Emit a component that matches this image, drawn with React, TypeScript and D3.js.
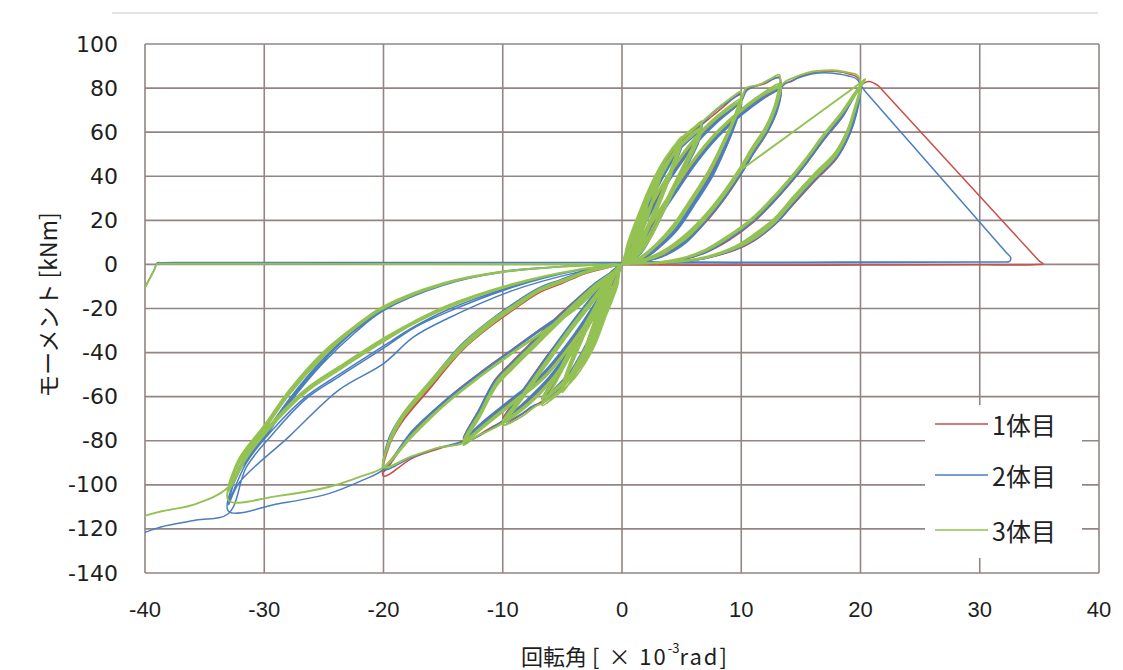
import React from "react";
import * as d3 from "d3";

type P = [number, number];

const X_TICKS = [-40, -30, -20, -10, 0, 10, 20, 30, 40];
const Y_TICKS = [100, 80, 60, 40, 20, 0, -20, -40, -60, -80, -100, -120, -140];
const SERIES_NAMES = ["1体目", "2体目", "3体目"];
const SERIES_COLORS = ["#c94d49", "#4a7ec0", "#93c152"];

// ---------- 1体目 ----------
const red_small: P[] = [
  [0, 0], [0.8, 12], [2.2, 30], [1.5, 17], [0.6, 4], [0.02, 0.2], [-0.8, -12], [-2.2, -31], [-1.3, -16], [-0.5, -4], [0, 0],
  [0.8, 12], [2.2, 29], [1.5, 16], [0.6, 4], [0.02, 0.2], [-0.8, -12], [-2.2, -30], [-1.3, -15], [-0.5, -4], [0, 0],
  [0.9, 13], [2, 27], [3.3, 42], [2.6, 30], [1.6, 15], [0.5, 3], [0.02, 0.2], [-0.9, -13], [-2, -28], [-3.3, -43], [-2.5, -30], [-1.4, -14], [-0.4, -3], [0, 0],
  [0.9, 13], [2, 26], [3.3, 41], [2.6, 29], [1.6, 14], [0.5, 3], [0.02, 0.2], [-0.9, -13], [-2, -27], [-3.3, -42], [-2.5, -29], [-1.4, -13], [-0.4, -3], [0, 0],
  [1, 13], [2.3, 28], [3.6, 43], [5, 56], [4.3, 45], [3.3, 31], [2.1, 17], [0.9, 5], [0.02, 0.2], [-0.8, -12], [-2, -27], [-3.5, -43], [-5, -56], [-4.2, -45], [-3, -30], [-1.8, -16], [-0.7, -4], [0, 0],
  [1, 12], [2.3, 27], [3.6, 42], [5, 54], [4.3, 44], [3.3, 30], [2.1, 16], [0.9, 4], [0.02, 0.2], [-0.8, -11], [-2, -26], [-3.5, -42], [-5, -55], [-4.2, -44], [-3, -29], [-1.8, -15], [-0.7, -4], [0, 0],
  [0.6, 10], [1.5, 22], [2.5, 35], [3.7, 47], [5, 56], [6, 61], [6.7, 64], [6.3, 57], [5.5, 48], [4.5, 37], [3.5, 26], [2.5, 15], [1.5, 6], [0.5, 1], [0.02, 0.1],
  [-0.5, -10], [-1.5, -24], [-2.5, -38], [-4, -50], [-5.5, -58], [-6.7, -63], [-5.8, -55], [-4.5, -42], [-3, -28], [-1.5, -13], [-0.5, -3], [0, 0],
  [0.6, 9], [1.5, 21], [2.5, 33], [3.7, 45], [5, 54], [6, 59], [6.7, 61], [6.3, 55], [5.5, 46], [4.5, 35], [3.5, 24], [2.5, 14], [1.5, 5], [0.5, 1], [0.02, 0.1],
  [-0.5, -9], [-1.5, -23], [-2.5, -36], [-4, -48], [-5.5, -56], [-6.7, -61], [-5.8, -53], [-4.5, -40], [-3, -27], [-1.5, -12], [-0.5, -3], [0, 0],
];
const red_mid: P[] = [
  [0.6, 9], [1.5, 21], [2.5, 33], [3.7, 45], [5, 55], [6.6, 63], [7.5, 67], [8.4, 71], [9.5, 76], [10, 77],
  [9.5, 66], [8.7, 55], [7.5, 42], [6, 29], [4.5, 17], [3, 8], [1.5, 3], [0.05, 0],
  [-0.5, -9], [-1.5, -23], [-2.5, -36], [-4, -48], [-5.5, -57], [-6.7, -62], [-7.3, -64], [-8.4, -68], [-10, -73],
  [-9, -64], [-7.8, -55], [-6.5, -45], [-4.5, -30], [-2.5, -16], [-1, -5], [0, 0],
  [1, 10], [2.5, 26], [4, 40], [6, 55], [8, 66], [10, 74],
  [9.5, 65], [8.7, 54], [7.5, 41], [6, 28], [4.5, 16], [3, 8], [1.5, 3], [0.05, 0],
  [-0.8, -9], [-2.3, -22], [-4, -37], [-6, -52], [-8, -63], [-10, -71],
  [-9, -63], [-7.8, -54], [-6.5, -44], [-4.5, -29], [-2.5, -15], [-1, -5], [0, 0],
  [1, 10], [2.5, 25], [4, 39], [6, 54], [8, 65], [10, 73],
  [9.5, 64], [8.7, 53], [7.5, 40], [6, 27], [4.5, 16], [3, 7], [1.5, 2], [0.05, 0],
  [-0.8, -9], [-2.3, -22], [-4, -36], [-6, -51], [-8, -62], [-10, -70],
  [-9, -62], [-7.8, -53], [-6.5, -43], [-4.5, -29], [-2.5, -15], [-1, -5], [0, 0],
  [1, 10], [2.5, 25], [4, 39], [6, 54], [8, 65], [10, 74], [10.4, 79], [12, 82], [13.2, 85],
  [13, 72], [12.2, 62], [11, 52], [10, 43], [8.5, 31], [7, 21], [5.3, 12], [3.5, 5], [1.5, 1], [0.05, 0],
  [-0.8, -9], [-2.3, -22], [-4, -36], [-6, -51], [-8, -62], [-10, -71], [-11, -74], [-12.2, -78], [-13.3, -81],
  [-12, -68], [-10.6, -54], [-9.2, -46], [-7.9, -39], [-5.1, -24], [-2.3, -10], [0, 0],
  [1.5, 10], [3, 22], [4.5, 34], [6, 46], [8, 59], [10, 69], [12, 77], [13.3, 81],
  [13, 71], [12.2, 61], [11, 51], [10, 42], [8.5, 30], [7, 20], [5.3, 11], [3.5, 4], [1.5, 1], [0.05, 0],
  [-1.5, -13], [-3.7, -31], [-6.5, -50], [-9.2, -62], [-11.5, -72], [-13.3, -80],
  [-12, -67], [-10.6, -53], [-9.2, -45], [-7.9, -38], [-5.1, -23], [-2.3, -9], [0, 0],
  [1.5, 9], [3, 21], [4.5, 33], [6, 45], [8, 58], [10, 68], [12, 76], [13.3, 80],
  [13, 70], [12.2, 60], [11, 50], [10, 41], [8.5, 29], [7, 19], [5.3, 10], [3.5, 4], [1.5, 1], [0.05, 0],
  [-1.5, -12], [-3.7, -30], [-6.5, -49], [-9.2, -61], [-11.5, -71], [-13.3, -79],
  [-12, -66], [-10.6, -52], [-9.2, -44], [-7.9, -37], [-5.1, -22], [-2.3, -9], [0, 0],
];
const red_big: P[] = [
  [1.5, 9], [3, 21], [4.5, 33], [6, 45], [8, 58], [10, 68], [12, 76], [13.3, 80], [13.6, 82], [14.2, 83], [15, 85.5], [16, 87], [17, 87.5], [18, 87.5], [19, 86.5], [19.7, 85], [20, 82],
  [19.6, 70], [19, 60], [18, 50], [16.2, 40], [14.5, 30], [12.9, 20], [11, 12], [9.5, 7.7], [7, 3], [5, 1.5], [3, 0.5], [0.05, 0],
  [-1.5, -12], [-3.7, -30], [-6.5, -49], [-9.2, -61], [-11.5, -71], [-13.3, -80], [-15.3, -83.5], [-17.6, -88], [-20, -96],
  [-19.5, -82], [-18.5, -72], [-16.2, -57], [-13.4, -39], [-11, -28], [-9.2, -21], [-7, -13], [-5.1, -8.8], [-3, -4], [-1, -1.2], [0, 0],
  [2.5, 0.5], [5, 2.5], [7, 6], [9, 12], [11, 20], [12.5, 28], [14, 37], [15.5, 47], [17, 58], [18.5, 68], [20, 81],
  [19.6, 69], [19, 59], [18, 49], [16.2, 39], [14.5, 29], [12.9, 19], [11, 11], [9.5, 7], [7, 3], [5, 1.2], [3, 0.4], [0.05, 0],
  [-1, -4], [-3.7, -18], [-6.5, -28.5], [-9.2, -39], [-12, -50], [-14.8, -62], [-17.5, -76], [-20, -94],
  [-19.5, -81], [-18.5, -71], [-16.2, -56], [-13.4, -38], [-11, -27], [-9.2, -20], [-7, -12], [-5.1, -8], [-3, -3.5], [-1, -1], [0, 0],
  [2.5, 0.4], [5, 2.2], [7, 5.5], [9, 11.5], [11, 19.5], [12.5, 27.5], [14, 36.5], [15.5, 46.5], [17, 57.5], [18.5, 67.5], [20, 80.5],
  [19.6, 68], [19, 58], [18, 48], [16.2, 38], [14.5, 28], [12.9, 18.5], [11, 10.5], [9.5, 6.5], [7, 2.8], [5, 1.1], [3, 0.3], [0.05, 0],
  [-1, -3.8], [-3.7, -17.5], [-6.5, -28], [-9.2, -38.5], [-12, -49.5], [-14.8, -61.5], [-17.5, -75.5], [-20, -93.5],
  [-19.5, -80], [-18.5, -70], [-16.2, -55], [-13.4, -37], [-11, -26], [-9.2, -19], [-7, -11.5], [-5.1, -7.5], [-3, -3.2], [-1, -0.9], [0, 0],
  [2.5, 0.3], [5, 2], [7, 5.3], [9, 11], [11, 19], [12.5, 27], [14, 36], [15.5, 46], [17, 57], [18.5, 67], [20, 81], [20.7, 83], [21.5, 81], [21.9, 78.7],
  [34.6, 3.8], [35, 1.5], [35.3, 0.3], [34.5, -0.1], [30, -0.2], [20, -0.3], [10, -0.4], [0.1, -0.2],
];

// ---------- 2体目 ----------
const blue_small: P[] = [
  [0.7, 11], [2.2, 29], [1.6, 18], [0.7, 5], [0.05, 0.3], [-0.7, -11], [-2.2, -30], [-1.4, -17], [-0.6, -5], [0, 0],
  [0.7, 11], [2.2, 28], [1.6, 17], [0.7, 4], [0.05, 0.3], [-0.7, -11], [-2.2, -29], [-1.4, -16], [-0.6, -4], [0, 0],
  [0.8, 12], [2, 26], [3.3, 41], [2.7, 31], [1.7, 16], [0.6, 4], [0.05, 0.2], [-0.8, -12], [-2, -27], [-3.3, -42], [-2.6, -31], [-1.5, -15], [-0.5, -4], [0, 0],
  [0.8, 12], [2, 25], [3.3, 40], [2.7, 30], [1.7, 15], [0.6, 3], [0.05, 0.2], [-0.8, -12], [-2, -26], [-3.3, -41], [-2.6, -30], [-1.5, -14], [-0.5, -3], [0, 0],
  [0.9, 12], [2.2, 27], [3.6, 42], [5, 55], [4.4, 46], [3.4, 32], [2.2, 18], [1, 5], [0.05, 0.2], [-0.8, -11], [-2, -26], [-3.5, -42], [-5, -55], [-4.3, -46], [-3.1, -31], [-1.9, -17], [-0.8, -5], [0, 0],
  [0.9, 11], [2.2, 26], [3.6, 41], [5, 53], [4.4, 45], [3.4, 31], [2.2, 17], [1, 4], [0.05, 0.2], [-0.8, -11], [-2, -25], [-3.5, -41], [-5, -54], [-4.3, -45], [-3.1, -30], [-1.9, -16], [-0.8, -4], [0, 0],
  [0.6, 9], [1.6, 22], [2.6, 35], [3.8, 47], [5, 55], [6, 60], [6.7, 63], [6.4, 57], [5.6, 48], [4.6, 37], [3.6, 26], [2.6, 15], [1.6, 6], [0.6, 1], [0.05, 0.1],
  [-0.5, -9], [-1.5, -23], [-2.6, -37], [-4.1, -49], [-5.6, -58], [-6.7, -63], [-5.9, -55], [-4.6, -42], [-3.1, -28], [-1.6, -13], [-0.6, -3], [0, 0],
  [0.6, 9], [1.6, 21], [2.6, 34], [3.8, 45], [5, 53], [6, 58], [6.7, 61], [6.4, 55], [5.6, 46], [4.6, 35], [3.6, 25], [2.6, 14], [1.6, 5], [0.6, 1], [0.05, 0.1],
  [-0.5, -9], [-1.5, -22], [-2.6, -35], [-4.1, -47], [-5.6, -56], [-6.7, -61], [-5.9, -53], [-4.6, -40], [-3.1, -27], [-1.6, -12], [-0.6, -3], [0, 0],
];
const blue_mid: P[] = [
  [0.6, 9], [1.6, 21], [2.6, 34], [3.8, 45], [5, 54], [6.6, 63], [7.5, 68], [8.4, 72], [9.5, 76], [10, 78],
  [9.6, 67], [8.8, 56], [7.7, 43], [6.2, 30], [4.7, 18], [3.2, 9], [1.7, 3], [0.1, 0],
  [-0.6, -9], [-1.6, -23], [-2.6, -36], [-4.1, -48], [-5.6, -57], [-6.8, -63], [-7.4, -64], [-8.5, -68], [-10, -72],
  [-9.1, -65], [-7.9, -56], [-6.6, -46], [-4.6, -31], [-2.6, -17], [-1.1, -6], [0, 0],
  [1.1, 10], [2.6, 26], [4.1, 40], [6.1, 55], [8.1, 66], [10, 74],
  [9.6, 66], [8.8, 55], [7.7, 42], [6.2, 29], [4.7, 17], [3.2, 8], [1.7, 3], [0.1, 0],
  [-0.9, -9], [-2.4, -22], [-4.1, -37], [-6.1, -52], [-8.1, -63], [-10, -72],
  [-9.1, -64], [-7.9, -55], [-6.6, -45], [-4.6, -30], [-2.6, -16], [-1.1, -5], [0, 0],
  [1.1, 10], [2.6, 25], [4.1, 39], [6.1, 54], [8.1, 65], [10, 73],
  [9.6, 65], [8.8, 54], [7.7, 41], [6.2, 28], [4.7, 16], [3.2, 8], [1.7, 2], [0.1, 0],
  [-0.9, -9], [-2.4, -21], [-4.1, -36], [-6.1, -51], [-8.1, -62], [-10, -71],
  [-9.1, -63], [-7.9, -54], [-6.6, -44], [-4.6, -29], [-2.6, -15], [-1.1, -5], [0, 0],
  [1.1, 10], [2.6, 25], [4.1, 39], [6.1, 54], [8.1, 65], [10, 74], [10.5, 79], [12, 82.5], [13.2, 84.5],
  [13, 73], [12.3, 63], [11.1, 53], [10.1, 44], [8.6, 32], [7.1, 22], [5.4, 12], [3.6, 5], [1.6, 1], [0.1, 0],
  [-0.9, -9], [-2.4, -21], [-4.1, -36], [-6.1, -51], [-8.1, -62], [-10, -71], [-11, -74.5], [-12.2, -78.5], [-13.3, -81],
  [-12.1, -69], [-10.7, -55], [-9.3, -47], [-8, -40], [-5.2, -25], [-2.4, -11], [0, 0],
  [1.6, 10], [3.1, 22], [4.6, 34], [6.1, 46], [8.1, 59], [10.1, 69], [12.1, 77], [13.3, 81],
  [13.1, 72], [12.3, 62], [11.1, 52], [10.1, 43], [8.6, 31], [7.1, 21], [5.4, 11], [3.6, 4], [1.6, 1], [0.1, 0],
  [-1.6, -13], [-3.8, -31], [-6.6, -50], [-9.3, -62], [-11.6, -72], [-13.3, -80],
  [-12.1, -68], [-10.7, -54], [-9.3, -46], [-8, -39], [-5.2, -24], [-2.4, -10], [0, 0],
  [1.6, 9], [3.1, 21], [4.6, 33], [6.1, 45], [8.1, 58], [10.1, 68], [12.1, 76], [13.3, 80],
  [13.1, 71], [12.3, 61], [11.1, 51], [10.1, 42], [8.6, 30], [7.1, 20], [5.4, 10], [3.6, 4], [1.6, 1], [0.1, 0],
  [-1.6, -12], [-3.8, -30], [-6.6, -49], [-9.3, -61], [-11.6, -71], [-13.3, -79],
  [-12.1, -67], [-10.7, -53], [-9.3, -45], [-8, -38], [-5.2, -23], [-2.4, -9], [0, 0],
];
const blue_big: P[] = [
  [1.6, 9], [3.1, 21], [4.6, 33], [6.1, 45], [8.1, 58], [10.1, 68], [12.1, 76], [13.3, 80], [13.7, 82], [14.3, 83.5], [15, 85], [16, 86.5], [17, 87], [18, 86.5], [19, 85.5], [19.7, 84], [20, 81],
  [19.7, 71], [19.1, 61], [18.1, 51], [16.3, 41], [14.6, 31], [13, 21], [11.1, 13], [9.6, 8], [7.1, 3.2], [5.1, 1.6], [3.1, 0.6], [0.1, 0],
  [-1.6, -12], [-3.8, -30], [-6.6, -49], [-9.3, -61], [-11.6, -71], [-13.3, -80], [-15.3, -83], [-17.6, -87.5], [-20, -93],
  [-19.6, -81], [-18.6, -71], [-16.3, -56], [-13.5, -38], [-11.1, -27], [-9.3, -20], [-7.1, -12], [-5.2, -8], [-3.1, -3.5], [-1.1, -1], [0, 0],
  [2.6, 0.6], [5.1, 2.6], [7.1, 6.2], [9.1, 12.5], [11.1, 20.5], [12.6, 28.5], [14.1, 37.5], [15.6, 47.5], [17.1, 58.5], [18.6, 68.5], [20, 80.5],
  [19.7, 70], [19.1, 60], [18.1, 50], [16.3, 40], [14.6, 30], [13, 20], [11.1, 12], [9.6, 7.5], [7.1, 3], [5.1, 1.4], [3.1, 0.5], [0.1, 0],
  [-1.1, -4.5], [-3.8, -18.5], [-6.6, -29], [-9.3, -39.5], [-12.1, -50.5], [-14.9, -62.5], [-17.6, -76], [-20, -93],
  [-19.6, -80], [-18.6, -70], [-16.3, -55], [-13.5, -37], [-11.1, -26], [-9.3, -19], [-7.1, -11.5], [-5.2, -7.5], [-3.1, -3.2], [-1.1, -0.9], [0, 0],
  [2.6, 0.5], [5.1, 2.3], [7.1, 5.8], [9.1, 12], [11.1, 20], [12.6, 28], [14.1, 37], [15.6, 47], [17.1, 58], [18.6, 68], [20, 80],
  [19.7, 69], [19.1, 59], [18.1, 49], [16.3, 39], [14.6, 29], [13, 19], [11.1, 11], [9.6, 7], [7.1, 2.8], [5.1, 1.3], [3.1, 0.5], [0.1, 0],
  [-1.1, -4.3], [-3.8, -18], [-6.6, -28.5], [-9.3, -39], [-12.1, -50], [-14.9, -62], [-17.6, -75.5], [-20, -92.5],
  [-19.6, -79.5], [-18.6, -69.5], [-16.3, -54.5], [-13.5, -36.5], [-11.1, -25.5], [-9.3, -18.5], [-7.1, -11], [-5.2, -7], [-3.1, -3], [-1.1, -0.8], [0, 0],
  [2.6, 0.5], [5.1, 2.2], [7.1, 5.6], [9.1, 11.8], [11.1, 19.8], [12.6, 27.8], [14.1, 36.8], [15.6, 46.8], [17.1, 57.8], [18.6, 67.8], [20, 81], [20.4, 78.5],
  [32.2, 5.5], [32.6, 3], [32.5, 1.4], [32, 1.1], [25, 1.1], [15, 1], [5, 0.8], [0.1, 0.5],
];
const blue_33: P[] = [
  [-1.1, -4.3], [-3.8, -18], [-6.6, -28.5], [-9.3, -39], [-12.1, -50], [-14.9, -62], [-17.6, -75.5], [-20, -93],
  [-21.8, -98], [-24.6, -104], [-28.8, -108.6], [-33, -112],
  [-32.1, -94], [-30, -79], [-27.9, -63], [-25.1, -45], [-22.4, -31], [-20, -21], [-15, -9.5], [-10, -3.5], [-5, -1], [0, 0.5],
  [10, 0.8], [20, 1], [32, 1.1], [20, 0.9], [10, 0.7], [0.2, 0.4],
  [-3.7, -3.5], [-9.25, -12], [-14.8, -25], [-17.5, -33], [-20, -45], [-23.75, -57], [-27.9, -78], [-32.1, -99], [-33, -109],
  [-32.1, -93], [-30, -78], [-27.9, -62], [-25.1, -44], [-22.4, -30], [-20, -20.5], [-15, -9], [-10, -3.3], [-5, -1], [0, 0.5],
  [15, 0.9], [32, 1.1], [15, 0.9], [0.2, 0.4],
  [-3.7, -2.7], [-9.25, -10], [-14.8, -21], [-17.5, -28.5], [-20, -37], [-23.75, -50], [-26.5, -60], [-29.3, -75], [-31.5, -90], [-33, -108],
  [-32.1, -92], [-30, -77], [-27.9, -61], [-25.1, -43], [-22.4, -29.5], [-20, -20], [-15, -9], [-10, -3.2], [-5, -1], [0, 0.5],
  [15, 0.9], [32, 1.1], [15, 0.9], [0.2, 0.4],
  [-3.7, -2.7], [-9.25, -10.5], [-14.8, -22], [-17.5, -29], [-20, -38], [-23.75, -51], [-26.5, -61], [-29.3, -77], [-31.5, -92], [-33, -113],
  [-35.7, -116], [-38.6, -119], [-40, -121.5], [-41.5, -123], [-41, -25], [-39.2, -2], [-39, 0.6], [-38.6, 0.8], [-37, 0.9], [-20, 0.9], [0, 0.9], [20, 1], [32.4, 1.1],
];

// ---------- 3体目 ----------
const green_small: P[] = [
  [0, 0], [0.7, 12], [2.2, 31], [1.5, 18], [0.6, 5], [0.02, 0.2], [-0.7, -12], [-2.2, -31], [-1.4, -17], [-0.6, -5], [0, 0],
  [0.8, 13], [2.2, 30], [1.6, 18], [0.6, 4], [0.02, 0.2], [-0.8, -13], [-2.2, -30], [-1.4, -16], [-0.6, -4], [0, 0],
  [0.8, 12], [2.2, 29], [1.6, 17], [0.6, 4], [0.02, 0.2], [-0.8, -12], [-2.2, -29], [-1.4, -15], [-0.6, -4], [0, 0],
  [0.8, 13], [1.9, 27], [3.3, 43], [2.7, 32], [1.8, 18], [0.7, 5], [0.02, 0.2], [-0.8, -13], [-1.9, -28], [-3.3, -44], [-2.6, -32], [-1.6, -17], [-0.6, -4], [0, 0],
  [0.9, 13], [2, 27], [3.3, 42], [2.7, 31], [1.8, 17], [0.7, 4], [0.02, 0.2], [-0.9, -13], [-2, -28], [-3.3, -43], [-2.6, -31], [-1.6, -16], [-0.6, -4], [0, 0],
  [0.9, 12], [2, 26], [3.3, 41], [2.7, 30], [1.8, 16], [0.7, 4], [0.02, 0.2], [-0.9, -12], [-2, -27], [-3.3, -42], [-2.6, -30], [-1.6, -15], [-0.6, -3], [0, 0],
  [0.8, 13], [2, 29], [3.4, 45], [5, 58], [4.4, 48], [3.5, 35], [2.4, 21], [1.2, 7], [0.02, 0.2], [-0.7, -12], [-1.9, -28], [-3.4, -45], [-5, -58], [-4.4, -48], [-3.3, -34], [-2.1, -19], [-0.9, -6], [0, 0],
  [0.9, 12], [2.1, 28], [3.5, 43], [5, 56], [4.4, 46], [3.5, 33], [2.4, 19], [1.2, 6], [0.02, 0.2], [-0.8, -12], [-2, -27], [-3.5, -43], [-5, -56], [-4.4, -46], [-3.3, -32], [-2.1, -18], [-0.9, -5], [0, 0],
  [0.9, 12], [2.1, 27], [3.5, 42], [5, 55], [4.4, 45], [3.5, 32], [2.4, 18], [1.2, 5], [0.02, 0.2], [-0.8, -11], [-2, -26], [-3.5, -42], [-5, -55], [-4.4, -45], [-3.3, -31], [-2.1, -17], [-0.9, -5], [0, 0],
  [0.5, 10], [1.4, 23], [2.4, 36], [3.6, 48], [4.9, 57], [6, 62], [6.7, 65], [6.3, 58], [5.5, 49], [4.5, 38], [3.5, 27], [2.5, 16], [1.5, 7], [0.5, 1.5], [0.02, 0.1],
  [-0.5, -10], [-1.4, -24], [-2.4, -38], [-3.9, -51], [-5.4, -59], [-6.7, -64], [-5.8, -56], [-4.5, -43], [-3, -29], [-1.5, -14], [-0.5, -4], [0, 0],
  [0.6, 10], [1.5, 22], [2.5, 35], [3.7, 46], [5, 55], [6, 60], [6.7, 62], [6.3, 56], [5.5, 47], [4.5, 36], [3.5, 25], [2.5, 14], [1.5, 6], [0.5, 1], [0.02, 0.1],
  [-0.5, -10], [-1.5, -23], [-2.5, -37], [-4, -49], [-5.5, -57], [-6.7, -62], [-5.8, -54], [-4.5, -41], [-3, -27], [-1.5, -13], [-0.5, -3], [0, 0],
  [0.6, 9], [1.5, 21], [2.5, 34], [3.7, 45], [5, 54], [6, 59], [6.7, 61], [6.3, 55], [5.5, 46], [4.5, 35], [3.5, 24], [2.5, 13], [1.5, 5], [0.5, 1], [0.02, 0.1],
  [-0.5, -9], [-1.5, -22], [-2.5, -36], [-4, -48], [-5.5, -56], [-6.7, -61], [-5.8, -53], [-4.5, -40], [-3, -26], [-1.5, -12], [-0.5, -3], [0, 0],
];
const green_mid: P[] = [
  [0.5, 10], [1.4, 22], [2.4, 35], [3.6, 47], [4.9, 56], [6.6, 64], [7.5, 68.5], [8.4, 72.5], [9.5, 77], [10, 78.5],
  [9.4, 67], [8.5, 56], [7.3, 43], [5.8, 30], [4.3, 18], [2.8, 9], [1.4, 3], [0.02, 0.1],
  [-0.4, -10], [-1.4, -24], [-2.4, -37], [-3.9, -49], [-5.4, -58], [-6.7, -63], [-7.3, -64.5], [-8.4, -69], [-10, -73],
  [-8.9, -65], [-7.7, -56], [-6.4, -46], [-4.4, -31], [-2.4, -17], [-0.9, -6], [0, 0],
  [0.9, 11], [2.4, 27], [3.9, 41], [5.9, 56], [7.9, 67], [10, 75],
  [9.4, 66], [8.5, 55], [7.3, 42], [5.8, 29], [4.3, 17], [2.8, 8], [1.4, 3], [0.02, 0.1],
  [-0.7, -10], [-2.2, -23], [-3.9, -38], [-5.9, -53], [-7.9, -64], [-10, -72],
  [-8.9, -64], [-7.7, -55], [-6.4, -45], [-4.4, -30], [-2.4, -16], [-0.9, -5], [0, 0],
  [0.9, 11], [2.4, 26], [3.9, 40], [5.9, 55], [7.9, 66], [10, 74],
  [9.4, 65], [8.5, 54], [7.3, 41], [5.8, 28], [4.3, 16], [2.8, 8], [1.4, 2], [0.02, 0.1],
  [-0.7, -10], [-2.2, -22], [-3.9, -37], [-5.9, -52], [-7.9, -63], [-10, -71],
  [-8.9, -63], [-7.7, -54], [-6.4, -44], [-4.4, -29], [-2.4, -15], [-0.9, -5], [0, 0],
  [0.9, 11], [2.4, 26], [3.9, 40], [5.9, 55], [7.9, 66], [10, 75], [10.4, 80], [11.5, 81.5], [12.4, 84], [13.2, 86],
  [12.9, 74], [12.1, 63], [10.9, 53], [9.9, 44], [8.4, 32], [6.9, 22], [5.2, 13], [3.4, 6], [1.4, 1.5], [0.02, 0.1],
  [-0.7, -10], [-2.2, -22], [-3.9, -37], [-5.9, -52], [-7.9, -63], [-10, -72], [-11, -75], [-12.2, -78], [-13.3, -82],
  [-11.9, -69], [-10.5, -55], [-9.1, -47], [-7.8, -40], [-5, -25], [-2.2, -11], [0, 0],
  [1.4, 11], [2.9, 23], [4.4, 35], [5.9, 47], [7.9, 60], [9.9, 70], [11.9, 78], [13.3, 82],
  [12.9, 72], [12.1, 62], [10.9, 52], [9.9, 43], [8.4, 31], [6.9, 21], [5.2, 12], [3.4, 5], [1.4, 1], [0.02, 0.1],
  [-1.4, -14], [-3.6, -32], [-6.4, -51], [-9.1, -63], [-11.4, -73], [-13.3, -81],
  [-11.9, -68], [-10.5, -54], [-9.1, -46], [-7.8, -39], [-5, -24], [-2.2, -10], [0, 0],
  [1.4, 10], [2.9, 22], [4.4, 34], [5.9, 46], [7.9, 59], [9.9, 69], [11.9, 77], [13.3, 81],
  [12.9, 71], [12.1, 61], [10.9, 51], [9.9, 42], [8.4, 30], [6.9, 20], [5.2, 11], [3.4, 5], [1.4, 1], [0.02, 0.1],
  [-1.4, -13], [-3.6, -31], [-6.4, -50], [-9.1, -62], [-11.4, -72], [-13.3, -80],
  [-11.9, -67], [-10.5, -53], [-9.1, -45], [-7.8, -38], [-5, -23], [-2.2, -9], [0, 0],
];
const green_big: P[] = [
  [1.4, 10], [2.9, 22], [4.4, 34], [5.9, 46], [7.9, 59], [9.9, 69], [11.9, 77], [13.3, 81], [13.7, 83], [14.3, 84.5], [15, 86], [16, 87.5], [17, 88], [18, 88], [19, 87], [19.7, 86], [20, 82],
  [19.5, 71], [18.9, 61], [17.9, 51], [16.1, 41], [14.4, 31], [12.8, 21], [10.9, 13], [9.4, 8], [6.9, 3.3], [4.9, 1.6], [2.9, 0.6], [0.02, 0.1],
  [-1.4, -13], [-3.6, -31], [-6.4, -50], [-9.1, -62], [-11.4, -72], [-13.3, -81], [-15.3, -83], [-17.6, -87], [-20, -92],
  [-19.4, -80], [-18.4, -70], [-16.1, -55], [-13.3, -38], [-10.9, -27], [-9.1, -20], [-6.9, -12], [-5, -8], [-2.9, -3.5], [-0.9, -1], [0, 0],
  [2.4, 0.6], [4.9, 2.7], [6.9, 6.5], [8.9, 13], [10.9, 21], [12.4, 29], [13.9, 38], [15.4, 48], [16.9, 59], [18.4, 69], [20, 81],
  [19.5, 70], [18.9, 60], [17.9, 50], [16.1, 40], [14.4, 30], [12.8, 20], [10.9, 12], [9.4, 7.5], [6.9, 3], [4.9, 1.4], [2.9, 0.5], [0.02, 0.1],
  [-0.9, -4.5], [-3.6, -19], [-6.4, -30], [-9.1, -40], [-11.9, -51], [-14.7, -63], [-17.4, -77], [-20, -92],
  [-19.4, -79], [-18.4, -69], [-16.1, -54], [-13.3, -37], [-10.9, -26], [-9.1, -19], [-6.9, -11.5], [-5, -7.5], [-2.9, -3.2], [-0.9, -0.9], [0, 0],
  [2.4, 0.5], [4.9, 2.4], [6.9, 6], [8.9, 12.5], [10.9, 20.5], [12.4, 28.5], [13.9, 37.5], [15.4, 47.5], [16.9, 58.5], [18.4, 68.5], [20, 80],
  [19.5, 69], [18.9, 59], [17.9, 49], [16.1, 39], [14.4, 29], [12.8, 19], [10.9, 11], [9.4, 7], [6.9, 2.8], [4.9, 1.3], [2.9, 0.5], [0.02, 0.1],
  [-0.9, -4.3], [-3.6, -18.5], [-6.4, -29.5], [-9.1, -39.5], [-11.9, -50.5], [-14.7, -62.5], [-17.4, -76], [-20, -91.5],
  [-19.4, -78], [-18.4, -68], [-16.1, -53], [-13.3, -36], [-10.9, -25], [-9.1, -18.5], [-6.9, -11], [-5, -7], [-2.9, -3], [-0.9, -0.8], [0, 0],
  [2.4, 0.5], [4.9, 2.3], [6.9, 5.8], [8.9, 12], [10.9, 20], [12.4, 28], [13.9, 37], [15.4, 47], [16.9, 58], [18.4, 68], [20, 80.5], [20.4, 84], [20.1, 82.8],
  [10.3, 44.2], [10, 43], [8.5, 31], [7, 21], [5.3, 12], [3.5, 5], [1.5, 1], [0.02, 0.1],
];
const green_33: P[] = [
  [-0.9, -4.3], [-3.6, -18.5], [-6.4, -29.5], [-9.1, -39.5], [-11.9, -50.5], [-14.7, -62.5], [-17.4, -76], [-20, -92],
  [-21.8, -96], [-24.6, -101], [-28.8, -105], [-33, -107],
  [-32.1, -90], [-30, -75], [-27.9, -59], [-25.1, -42], [-22.4, -29], [-20, -20], [-15, -9], [-10, -3.5], [-5, -1], [0, 0],
  [-3.7, -2.5], [-9.25, -9.5], [-14.8, -20], [-17.5, -27], [-20, -35], [-23.75, -48], [-26.5, -58], [-29.3, -73], [-31.5, -88], [-33, -103],
  [-32.1, -89], [-30, -74], [-27.9, -58], [-25.1, -41], [-22.4, -28.5], [-20, -19.5], [-15, -8.8], [-10, -3.3], [-5, -1], [0, 0.1],
  [-3.7, -2.4], [-9.25, -9.2], [-14.8, -19.5], [-17.5, -26.5], [-20, -34], [-23.75, -47], [-26.5, -57], [-29.3, -72], [-31.5, -87], [-33, -101],
  [-32.1, -88], [-30, -73], [-27.9, -57], [-25.1, -40], [-22.4, -28], [-20, -19], [-15, -8.5], [-10, -3.2], [-5, -1], [0, 0.05],
  [-3.7, -2.4], [-9.25, -9], [-14.8, -19], [-17.5, -26], [-20, -33.5], [-23.75, -46.5], [-26.5, -56.5], [-29.3, -71.5], [-31.5, -86], [-33, -101],
  [-35.7, -108.6], [-38.6, -112], [-40, -114], [-41.5, -116], [-41, -25], [-39.2, -2.2], [-39, 0.2], [-38.6, 0.3], [-37, 0.3], [-30, 0.3], [-20, 0.2], [-10, 0.1], [-0.5, 0],
];

const SERIES_DATA: P[][] = [
  [...red_small, ...red_mid, ...red_big],
  [...blue_small, ...blue_mid, ...blue_big, ...blue_33],
  [...green_small, ...green_mid, ...green_big, ...green_33],
];

const NUM_FONT = "'Liberation Sans', Arial, sans-serif";
const Y_NUM_FONT = "'DejaVu Sans', Verdana, sans-serif";
const JP_FONT = "'Noto Sans CJK JP', 'Noto Sans', sans-serif";

export default function App() {
  const W = 1123;
  const H = 670;
  const x = d3.scaleLinear().domain([-40, 40]).range([145, 1099]);
  const y = d3.scaleLinear().domain([-140, 100]).range([573, 44]);
  const line = d3
    .line<P>()
    .x((d) => x(d[0]))
    .y((d) => y(d[1]))
    .curve(d3.curveCatmullRom.alpha(0.5));

  const gridColor = "#938583";
  const legendY = [424, 475, 530];

  return (
    <svg
      width={W}
      height={H}
      style={{ position: "absolute", left: 0, top: 0, background: "#fff" }}
    >
      <rect x={0} y={0} width={W} height={H} fill="#fff" />
      <line x1={112} x2={1098} y1={13} y2={13} stroke="#e4e4e4" strokeWidth={2} />
      <defs>
        <clipPath id="plotClip">
          <rect x={x(-40)} y={y(100)} width={x(40) - x(-40)} height={y(-140) - y(100)} />
        </clipPath>
      </defs>

      {Y_TICKS.map((t) => (
        <line key={"gy" + t} x1={x(-40)} x2={x(40)} y1={y(t)} y2={y(t)} stroke={gridColor} strokeWidth={1.6} />
      ))}
      {X_TICKS.map((t) => (
        <line key={"gx" + t} x1={x(t)} x2={x(t)} y1={y(100)} y2={y(-140)} stroke={gridColor} strokeWidth={1.6} />
      ))}

      <g clipPath="url(#plotClip)" fill="none" strokeLinejoin="round" strokeLinecap="round">
        {SERIES_DATA.map((data, i) => (
          <path
            key={"s" + i}
            d={line(data) || ""}
            stroke={SERIES_COLORS[i]}
            strokeWidth={i === 2 ? 1.9 : 1.5}
          />
        ))}
      </g>

      <rect x={925} y={405} width={157} height={153} fill="#fff" />
      {SERIES_NAMES.map((n, i) => (
        <g key={"lg" + i}>
          <line x1={935} x2={988} y1={legendY[i]} y2={legendY[i]} stroke={SERIES_COLORS[i]} strokeWidth={1.6} />
          <text x={992} y={legendY[i]} dominantBaseline="central" fontFamily={JP_FONT} fontSize={25} fill="#222">
            {n}
          </text>
        </g>
      ))}

      {Y_TICKS.map((t) => (
        <text key={"ty" + t} x={118} y={y(t)} textAnchor="end" dominantBaseline="central" fontFamily={Y_NUM_FONT} fontSize={22} fill="#1e1e1e">
          {t}
        </text>
      ))}
      {X_TICKS.map((t) => (
        <text key={"tx" + t} x={x(t)} y={609} textAnchor="middle" dominantBaseline="central" fontFamily={NUM_FONT} fontSize={22} fill="#1e1e1e">
          {t}
        </text>
      ))}

      <text
        transform={`translate(47, 305) rotate(-90)`}
        textAnchor="middle"
        dominantBaseline="central"
        fontFamily={JP_FONT}
        fontSize={23}
        fill="#1e1e1e"
      >
        モーメント [kNm]
      </text>
      <text x={625} y={655} textAnchor="middle" dominantBaseline="central" fontFamily={JP_FONT} fontSize={22} fill="#1e1e1e" xmlSpace="preserve">
        <tspan>回転角 </tspan>
        <tspan letterSpacing={2}>[ × 10</tspan>
        <tspan dy={-8} fontSize={13}>-3</tspan>
        <tspan dy={8} letterSpacing={2}>rad]</tspan>
      </text>
    </svg>
  );
}
